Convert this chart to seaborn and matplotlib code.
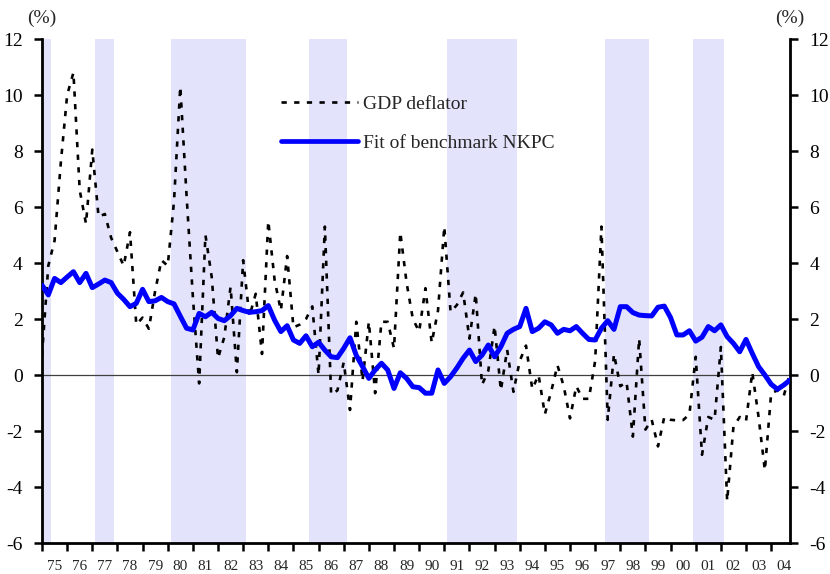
import matplotlib
matplotlib.use("Agg")
import matplotlib.pyplot as plt
import seaborn as sns
import pandas as pd
from matplotlib.lines import Line2D

# ---------------- data ----------------
years = list(range(1975, 2005))
quarters = [f"{y}Q{q}" for y in years for q in range(1, 5)]
year_labels = [f"{y % 100:02d}" for y in years]

gdp_deflator = [
    0.7, 3.9, 4.8, 7.6,        # 1975
    10.0, 10.8, 6.6, 5.4,      # 1976
    8.05, 5.65, 5.75, 4.9,     # 1977
    4.4, 3.9, 5.1, 1.8,        # 1978
    2.05, 1.65, 3.0, 4.1,      # 1979
    3.9, 6.2, 10.3, 6.4,       # 1980
    2.8, -0.3, 5.0, 3.5,       # 1981
    0.6, 1.35, 3.15, 0.1,      # 1982
    4.1, 2.1, 2.9, 0.75,       # 1983
    5.5, 3.4, 2.3, 4.25,       # 1984
    1.7, 1.8, 2.0, 2.45,       # 1985
    0.0, 5.3, -0.7, -0.55,     # 1986
    0.45, -1.25, 1.9, -0.2,    # 1987
    1.9, -0.65, 1.9, 1.9,      # 1988
    0.95, 5.1, 3.3, 2.0,       # 1989
    1.55, 3.1, 1.15, 2.3,      # 1990
    5.3, 2.25, 2.5, 2.95,      # 1991
    1.3, 2.9, -0.35, 0.15,     # 1992
    1.75, -0.55, 0.9, -0.6,    # 1993
    0.5, 1.05, -0.5, 0.0,      # 1994
    -1.4, -0.6, 0.35, -0.4,    # 1995
    -1.55, -0.4, -0.85, -0.85, # 1996
    0.5, 5.3, -1.6, 0.75,      # 1997
    -0.4, -0.25, -2.2, 1.3,    # 1998
    -1.95, -1.6, -2.55, -1.5,  # 1999
    -1.6, -1.62, -1.61, -1.4,  # 2000
    0.65, -2.85, -1.5, -1.6,   # 2001
    1.0, -4.5, -1.85, -1.5,    # 2002
    -1.65, 0.1, -1.5, -3.4,    # 2003
    -0.65, -0.55, -0.75, 0.05, # 2004
]

nkpc_fit = [
    3.21, 2.86, 3.45, 3.30,    # 1975
    3.50, 3.69, 3.30, 3.63,    # 1976
    3.12, 3.25, 3.39, 3.30,    # 1977
    2.92, 2.70, 2.44, 2.56,    # 1978
    3.06, 2.62, 2.65, 2.77,    # 1979
    2.62, 2.54, 2.10, 1.67,    # 1980
    1.61, 2.20, 2.08, 2.24,    # 1981
    2.02, 1.94, 2.12, 2.38,    # 1982
    2.30, 2.24, 2.26, 2.30,    # 1983
    2.48, 1.96, 1.55, 1.76,    # 1984
    1.25, 1.13, 1.40, 1.01,    # 1985
    1.17, 0.89, 0.65, 0.62,    # 1986
    0.95, 1.33, 0.70, 0.30,    # 1987
    -0.12, 0.18, 0.42, 0.18,   # 1988
    -0.48, 0.08, -0.12, -0.42, # 1989
    -0.45, -0.65, -0.65, 0.18, # 1990
    -0.30, -0.06, 0.25, 0.60,  # 1991
    0.89, 0.48, 0.71, 1.07,    # 1992
    0.65, 1.01, 1.49, 1.63,    # 1993
    1.73, 2.38, 1.55, 1.67,    # 1994
    1.90, 1.79, 1.49, 1.63,    # 1995
    1.58, 1.73, 1.49, 1.27,    # 1996
    1.25, 1.67, 1.94, 1.63,    # 1997
    2.44, 2.44, 2.23, 2.14,    # 1998
    2.12, 2.11, 2.42, 2.46,    # 1999
    2.05, 1.43, 1.43, 1.58,    # 2000
    1.21, 1.35, 1.73, 1.58,    # 2001
    1.79, 1.37, 1.13, 0.83,    # 2002
    1.27, 0.77, 0.30, 0.00,    # 2003
    -0.33, -0.51, -0.36, -0.18,# 2004
]

recessions = [("1975Q1", "1975Q2"), ("1977Q2", "1977Q4"), ("1980Q2", "1983Q1"),
              ("1985Q4", "1987Q1"), ("1991Q2", "1993Q4"), ("1997Q3", "1999Q1"),
              ("2001Q1", "2002Q1")]

y_ticks = list(range(-6, 13, 2))

# ---------------- plot ----------------
sns.set_style("white")
plt.rcParams["font.family"] = ["Liberation Serif", "DejaVu Serif"]

df = pd.DataFrame({"pos": range(len(quarters)), "quarter": quarters,
                   "GDP deflator": gdp_deflator,
                   "Fit of benchmark NKPC": nkpc_fit})

fig = plt.figure(figsize=(8.3, 5.74), dpi=100)
ax = fig.add_axes([42 / 830, 31 / 574, 748 / 830, 504 / 574])

shade = "#E3E3FB"
for s, e in recessions:
    ax.axvspan(quarters.index(s) - 0.5, quarters.index(e) + 0.5,
               color=shade, lw=0, zorder=0)

ax.axhline(0, color="#404040", lw=0.9, zorder=1)

dash_pat = (2.0, 2.8)
sns.lineplot(data=df, x="pos", y="GDP deflator", ax=ax, color="black",
             lw=1.9, errorbar=None, zorder=3)
sns.lineplot(data=df, x="pos", y="Fit of benchmark NKPC", ax=ax, color="#0000FF",
             lw=3.6, errorbar=None, zorder=4)
ax.lines[1].set_dashes(dash_pat)
ax.lines[2].set_solid_joinstyle("round")
ax.lines[2].set_solid_capstyle("round")

ax.set_xlim(0, len(quarters) - 1)
ax.set_ylim(-6, 12)
ax.set_yticks(y_ticks)
ax.set_yticklabels([str(v) for v in y_ticks])
ax.set_xticks(range(0, len(quarters), 4))
ax.set_xticklabels([])
ax.set_xticks(range(2, len(quarters), 4), minor=True)
ax.set_xticklabels(year_labels, minor=True)
ax.set_xlabel("")
ax.set_ylabel("")

ax.tick_params(axis="y", which="major", direction="out", length=6, width=1.8,
               left=True, right=True, labelleft=True, labelright=True,
               labelsize=14, pad=8, colors="black")
ax.tick_params(axis="x", which="major", direction="out", length=6, width=1.8,
               bottom=True, colors="black")
ax.tick_params(axis="x", which="minor", length=0, labelsize=11, pad=12)

for side in ["left", "right", "bottom"]:
    ax.spines[side].set_visible(True)
    ax.spines[side].set_linewidth(2.0)
    ax.spines[side].set_color("black")
ax.spines["top"].set_visible(False)

ax.text(0, 1.04, "(%)", transform=ax.transAxes, ha="center", va="center", fontsize=14)
ax.text(1, 1.04, "(%)", transform=ax.transAxes, ha="center", va="center", fontsize=14)

handles = [Line2D([], [], color="black", lw=1.9, dashes=dash_pat),
           Line2D([], [], color="#0000FF", lw=3.4, solid_capstyle="round")]
leg = ax.legend(handles, ["GDP deflator", "Fit of benchmark NKPC"],
                loc="upper left", bbox_to_anchor=(0.319, 0.889), frameon=False,
                fontsize=14, handlelength=4.0, handletextpad=0.25,
                labelspacing=1.1, borderpad=0, borderaxespad=0)

fig.savefig("out.png", dpi=100)
